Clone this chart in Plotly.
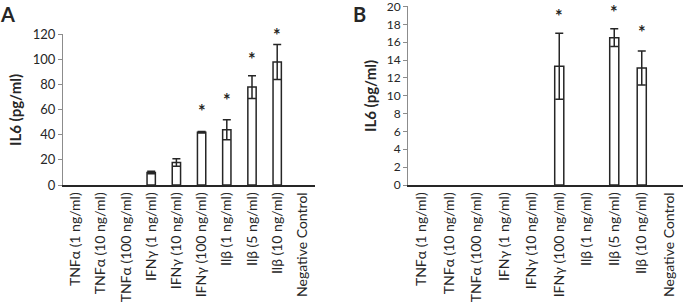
import plotly.graph_objects as go

categories = ["TNFα (1 ng/ml)", "TNFα (10 ng/ml)", "TNFα (100 ng/ml)",
              "IFNγ (1 ng/ml)", "IFNγ (10 ng/ml)", "IFNγ (100 ng/ml)",
              "Ilβ (1 ng/ml)", "Ilβ (5 ng/ml)", "Ilβ (10 ng/ml)", "Negative Control"]

a_values = [0, 0, 0, 10, 18, 42, 44, 78, 98, 0]
a_errors = [0, 0, 0, 1, 3, 0.6, 8, 9, 14, 0]
a_star_y = [None, None, None, None, None, 59, 68, 100, 119.5, None]

b_values = [0, 0, 0, 0, 0, 13.3, 0, 16.5, 13.1, 0]
b_errors = [0, 0, 0, 0, 0, 3.7, 0, 1.0, 1.9, 0]
b_star_y = [None, None, None, None, None, 18.9, None, 19.4, 17.1, None]

a_ticks = [0, 20, 40, 60, 80, 100, 120]
b_ticks = list(range(0, 21, 2))

FONT = "Lato"
DARK = "#262626"
W, H = 685, 303

fig = go.Figure()

for vals, errs, xa, ya in [(a_values, a_errors, "x", "y"), (b_values, b_errors, "x2", "y2")]:
    fig.add_trace(go.Bar(
        x=categories, y=[v if v else None for v in vals], xaxis=xa, yaxis=ya, width=0.33,
        marker=dict(color="white", line=dict(color=DARK, width=1.5)),
        error_y=dict(type="data", array=errs, visible=True, color=DARK, thickness=1.5, width=4),
        showlegend=False,
    ))

annotations = []
for cat, sy in zip(categories, a_star_y):
    if sy is not None:
        annotations.append(dict(x=cat, y=sy, xref="x", yref="y", text="<b>*</b>", showarrow=False,
                                font=dict(family=FONT, size=18, color=DARK), yanchor="middle"))
for cat, sy in zip(categories, b_star_y):
    if sy is not None:
        annotations.append(dict(x=cat, y=sy, xref="x2", yref="y2", text="<b>*</b>", showarrow=False,
                                font=dict(family=FONT, size=18, color=DARK), yanchor="middle"))

px_annots = [
    (15, 110, "<b>IL6 (pg/ml)</b>", -90, 15, "middle"),
    (370, 96, "<b>IL6 (pg/ml)</b>", -90, 15, "middle"),
    (8, 0, "<b>A</b>", 0, 20, "top"),
    (359, 0, "<b>B</b>", 0, 20, "top"),
]
for px, py, txt, ang, sz, ya in px_annots:
    annotations.append(dict(x=px / W, y=1 - py / H, xref="paper", yref="paper", text=txt, textangle=ang,
                            xanchor="center", yanchor=ya,
                            showarrow=False, font=dict(family=FONT, size=sz, color=DARK)))

xaxis_common = dict(type="category", tickangle=-90, showline=True, linecolor=DARK, linewidth=1.5,
                    ticks="", tickfont=dict(family=FONT, size=14, color=DARK), showgrid=False,
                    zeroline=False, automargin=False)
yaxis_common = dict(showline=True, linecolor="#8c8c8c", linewidth=1, ticks="outside", ticklen=4,
                    tickcolor="#8c8c8c", tickfont=dict(family=FONT, size=13, color=DARK),
                    showgrid=False, zeroline=False, automargin=False, ticklabeloverflow="allow")

fig.update_layout(
    width=W, height=H, autosize=False,
    margin=dict(l=0, r=0, t=0, b=0),
    plot_bgcolor="white", paper_bgcolor="white",
    xaxis=dict(xaxis_common, domain=[63 / W, 315 / W], anchor="y"),
    yaxis=dict(yaxis_common, domain=[1 - 185 / H, 1 - 34 / H], range=[0, 120.3], tickvals=a_ticks, anchor="x"),
    xaxis2=dict(xaxis_common, domain=[408 / W, 683 / W], anchor="y2"),
    yaxis2=dict(yaxis_common, domain=[1 - 185 / H, 1 - 6 / H], range=[0, 20.05], tickvals=b_ticks,
                anchor="x2", tickfont=dict(family=FONT, size=12, color=DARK)),
    annotations=annotations,
)

fig.write_html("out.html", config={"displayModeBar": False},
               post_script="document.body.style.margin='0';document.body.style.overflow='hidden';")
